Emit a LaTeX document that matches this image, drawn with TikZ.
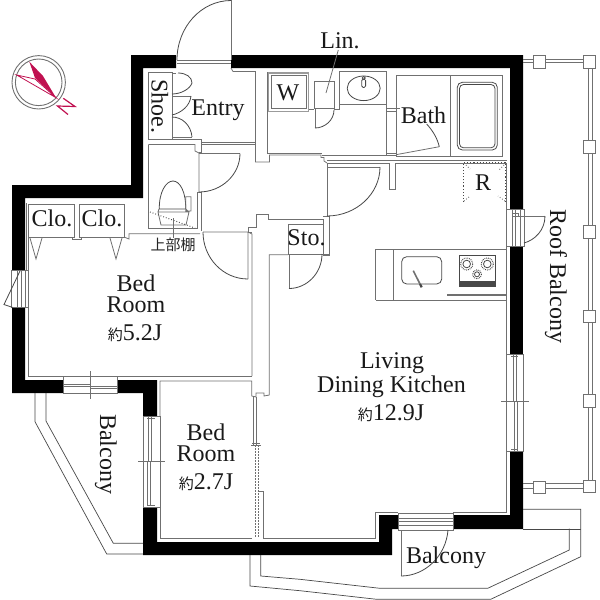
\documentclass[tikz,border=0pt]{standalone}
\usepackage{fontspec}
\setmainfont{Liberation Serif}
\newfontfamily\cjkf{Noto Sans CJK JP}
\newcommand{\yaku}{{\cjkf\fontsize{15}{15}\selectfont 約}}
\tikzset{
  wall/.style={fill=black,draw=none},
  ln/.style={draw=linegray,line width=0.8pt,line join=miter},
  dk/.style={draw=darkline,line width=0.8pt},
  lbl/.style={anchor=base,inner sep=0pt,outer sep=0pt,font=\fontsize{24}{24}\selectfont,text=black!90},
  post/.style={draw=linegray,line width=0.8pt,fill=white},
  compassline/.style={draw=compassred,line width=0.8pt},
}
\definecolor{linegray}{HTML}{707070}
\definecolor{darkline}{HTML}{484848}
\definecolor{compassred}{HTML}{C01050}
\begin{document}
\begin{tikzpicture}[x=1pt,y=-1pt]
\useasboundingbox (0,0) rectangle (600,600);
% walls
\path[wall] (12,270)--(12,185)--(131,185)--(131,55)--(176,55)--(176,68)--(143,68)--(143,198)--(25,198)--(25,270)--cycle;
\path[wall] (231,55)--(523,55)--(523,209)--(510,209)--(510,68)--(231,68)--cycle;
\path[wall] (510,246)--(523,246)--(523,354)--(510,354)--cycle;
\path[wall] (510,451)--(523,451)--(523,529)--(453,529)--(453,515)--(510,515)--cycle;
\path[wall] (379,515)--(398,515)--(398,529)--(392,529)--(392,555)--(143,555)--(143,507)--(157,507)--(157,542)--(379,542)--cycle;
\path[wall] (143,416)--(157,416)--(157,380)--(117,380)--(117,393)--(143,393)--cycle;
\path[wall] (12,308)--(25,308)--(25,380)--(63,380)--(63,393)--(12,393)--cycle;
% entry door
\draw[ln] (177,60)--(231,60) (177,63)--(231,63) (231,0)--(231,60);
\draw[dk] (231,0.5) .. controls (201.3,0.5) and (177,27) .. (177,60);
% entry and corridor walls
\draw[ln] (231,68)--(233,71.5)--(255.5,71.5)--(255.5,162)--(269.5,162)--(269.5,155)--(321,155)--(321,157.5)--(324,157.5)--(324,161)--(327,163);
\draw[ln] (267.3,72)--(267.3,153.5)--(321.5,153.5);
\draw[ln] (201,142)--(255.5,142) (201,144.5)--(255.5,144.5);
\draw[ln] (148.3,72)--(172,72)--(172,139)--(148.3,139)--cycle;
\draw[ln] (172,139)--(201,139)--(201,152.5)--(199,152.5);
% shoe cabinet doors
\draw[ln] (172,73)--(176,73) (172,96)--(191,96) (172,137)--(192,137);
\draw[dk] (178,73) .. controls (186,73) and (192,77) .. (192,83) .. controls (190,89) and (181,94) .. (172,94);
\draw[dk] (191,96) .. controls (190,106) and (181,113) .. (172,115);
\draw[dk] (172,117) .. controls (182,117) and (191,125) .. (192,137);
% toilet room
\draw[ln] (148.3,144.5)--(195,144.5)--(195,151)--(199,153)--(199,192);
\draw[ln] (148.3,144.5)--(148.3,228.5)--(197,228.5)--(197,192)--(201,192)--(201,231);
\draw[ln] (199,153.5)--(240,153.5);
\draw[dk] (240,153.5) .. controls (240,174.7) and (221.5,192) .. (199,192);
% toilet
\draw[ln,darkline] (159.3,209) .. controls (159,192) and (166,181) .. (173,181) .. controls (180,181) and (186,192) .. (185.7,209)--cycle;
\draw[ln] (158,212)--(189,212)--(186,225)--(161,225)--cycle (185.7,196.7) rectangle (191,211) (159,209)--(158,212) (185.7,209)--(189,212);
\draw[ln,darkline,dotted,line width=1pt] (150,212)--(195,228);
\draw[ln] (173.5,218)--(173.5,238);
% closets
\draw[ln] (28,204) rectangle (74,237) (79,204) rectangle (124,237);
\draw[ln] (72,237)--(72,239)--(81,239)--(81,237);
\draw[ln] (30,238)--(36,259)--(42,238) (110,238)--(116,259)--(122,238);
\draw[ln] (124,237)--(129,239)--(129,233.7)--(200,233.7);
\draw[ln] (26,203)--(26,270) (28,237)--(28,270);
% bed room 1
\draw[ln] (203,232)--(248,232)--(248,279) (248,232)--(252,234)--(252,376);
\draw[dk] (203,232) .. controls (203,258) and (223,279) .. (248,279);
\draw[ln] (28,308)--(28,376)--(252,376);
\draw[ln] (160,416)--(160,381)--(251.7,381)--(251.7,396)--(256,397)--(256,393)--(264,393)--(264,396)--(269.3,395)--(269.3,254.7)--(288,254.7);
\draw[ln] (160,507)--(160,538)--(252,538) (263,538)--(375,538)--(375,512)--(398,512) (453,512)--(506.5,512)--(506.5,451);
% middle steps
\draw[ln] (268,219)--(268,214.5)--(256,214.5)--(256,227)--(248,227)--(248,232)--(251.7,232);
\draw[ln] (268,219)--(324,219);
\draw[ln] (288,224)--(324,224) (288,224)--(288,254)--(329,254);
\draw[ln] (323,216)--(329,216)--(329,255)--(323,255)--(323,219);
\draw[ln] (289,254)--(289,288.5);
\draw[dk] (322,254) .. controls (322,273) and (307,288.5) .. (289,288.5);
\draw[ln] (327,163)--(327,216);
\draw[ln] (327,160.7)--(506.5,160.7) (327,163)--(389,163) (395,163)--(506.5,163);
\draw[ln] (389,163)--(389,189)--(395,189)--(395,163);
\draw[ln] (327,167)--(380,167);
\draw[dk] (380,167) .. controls (380,194) and (356,216) .. (327,216);
% sliding door
\draw[ln] (253,397)--(253,445) (256,397)--(256,445) (251,445)--(261,445) (252,443)--(260,443);
\draw[ln,dash pattern=on 2pt off 1pt] (255,445)--(255,537) (258,445)--(258,537);
\draw[ln] (257.5,491)--(263,491)--(263,538);
% W
\draw[draw=linegray!70,line width=1.6pt] (268.5,73) rectangle (308.5,111.5);
\draw[ln] (271,75.5) rectangle (306,108.5);
\draw[ln] (309,109)--(314.3,109);
% Lin
\draw[ln] (314.3,81) rectangle (334.3,108);
\draw[ln] (315,108)--(315,128) (334.3,109)--(339.3,109)--(339.3,104.3);
\draw[dk] (334,110) .. controls (334,120) and (325,128) .. (315,128);
\draw[ln] (338.3,50)--(326,93);
% wash
\draw[ln] (339.3,71.7) rectangle (386.7,104.3);
\draw[dk] (363.7,88.3) ellipse [x radius=16.5,y radius=12.3];
\draw[dk,rounded corners=1.5pt] (361.8,79) rectangle (365.6,87.5);
\draw[dk] (363.7,78) circle (1.6);
% bath
\draw[ln] (396.7,75) rectangle (502.3,156) (450.7,75)--(450.7,156);
\draw[ln] (321.5,155.7)--(396.7,155.7);
\draw[ln] (386.7,104.3)--(386.7,156);
\draw[ln] (386.7,108)--(400,108) (386.7,111)--(397,111) (386.7,153)--(397,153);
\draw[dk,rounded corners=5pt] (457.3,82.3) rectangle (497.3,150);
\draw[dk,rounded corners=4pt] (459.5,84.5) rectangle (495,147.8);
\draw[ln] (397,154.5)--(439.3,146.7);
\draw[dk] (439.3,146.7) .. controls (437,137) and (432,130) .. (426.7,124);
% fridge
\draw[darkline,dotted,line width=1.1pt] (463.3,202)--(463.3,162.5)--(506,162.5)--(506,202);
\draw[ln,dotted,line width=1pt] (466,165)--(470,169) (504,165)--(499,170) (464,201)--(469,197) (505,201)--(498,196);
% right side lines
\draw[ln] (506.5,163)--(506.5,209) (506.5,246)--(506.5,451);
% right door
\draw[ln] (506,209) rectangle (524,246) (512.7,209)--(512.7,246) (515,209)--(515,246) (520,209)--(520,246) (512.7,213)--(518,213)--(518,216) (513,216)--(545,216);
\draw[dk] (545,216) .. controls (545,230) and (535,240) .. (524,243);
% kitchen
\draw[ln] (375.7,300)--(375.7,249)--(506.7,249) (506.7,300)--(375.7,300) (393.3,249)--(393.3,300);
\draw[dk,rounded corners=5pt] (401.7,256.7) rectangle (441.7,284);
\draw[line width=1.6pt,draw=linegray] (413.3,270.7)--(420,284);
\draw[line width=2.2pt,draw=darkline] (420,284)--(421.7,287.3);
\draw[dk,line width=1pt] (459.3,255.7) rectangle (495,286);
\fill[darkline] (459.3,281) rectangle (495,286);
\draw[dk,densely dotted,line width=1pt] (466.7,264) circle (6) (487.3,264) circle (6) (477,274.3) circle (4.5);
\draw[dk] (466.7,264) circle (3.8) (487.3,264) circle (3.8) (477,274.3) circle (2.5);
\draw[linegray,line width=1.2pt] (447.3,295)--(506,295);
% right window
\draw[ln] (506.5,354) rectangle (523.5,451) (513,354)--(513,402) (516.7,354)--(516.7,402) (514,402)--(514,451) (517.5,402)--(517.5,451) (501,401.7)--(529,401.7);
\draw[ln] (511,356)--(518,356) (511,449)--(518,449);
% bed 2 window
\draw[ln] (143.3,416) rectangle (160.7,507) (148.5,416)--(148.5,462) (151.7,416)--(151.7,462) (147.5,462)--(147.5,505) (150,462)--(150,505) (138,461.7)--(165,461.7);
\draw[ln] (147,418)--(155,418) (147,505)--(155,505);
% bed 1 window
\draw[ln] (63.3,376) rectangle (117,393) (63.3,384)--(90.7,384) (63.3,386)--(90.7,386) (90.7,386)--(117,386) (90.7,388)--(117,388) (90.7,371)--(90.7,399);
% left window
\draw[ln] (11,270) rectangle (28,307.5) (17,270)--(17,307.5) (21,270)--(21,307.5) (25,270)--(25,307.5);
\draw[ln,darkline] (20,271)--(4,304.5)--(13,307.5);
% balcony door
\draw[ln] (398,513) rectangle (453,530) (398,518)--(453,518) (398,521)--(453,521) (398,525)--(453,525);
\draw[ln] (401,530)--(401,576);
\draw[dk] (448,530) .. controls (446,556) and (425,576) .. (401,576);
% balconies
\draw[dk,line width=0.7pt] (35,393)--(35,421.7)--(106.7,554)--(143,554);
\draw[dk,line width=0.7pt] (46,393)--(46,421)--(113.3,543.3)--(143,543.3);
\draw[dk,line width=0.7pt] (260.7,555)--(260.7,576)--(300,579.3)--(380,588.3)--(487.7,588.3)--(569.3,550)--(569.3,528.7);
\draw[dk,line width=0.7pt] (250,555)--(250,586)--(300,590.7)--(376.7,599.3)--(490.7,599.3)--(580.7,556.7)--(580.7,509.3)--(523,509.3);
\draw[dk,line width=0.7pt] (523,529)--(580.7,529);
% roof balcony fence
\draw[ln] (523,59.3)--(590,59.3) (523,62.7)--(590,62.7);
\draw[ln] (523,483.3)--(590,483.3) (523,488.3)--(590,488.3);
\draw[ln] (588.7,62)--(588.7,486) (592,62)--(592,486);
\draw[post] (533,55.5) rectangle (545.7,68);
\draw[post] (583.7,55) rectangle (595.7,68);
\draw[post] (583.7,140.7) rectangle (595.7,153.3);
\draw[post] (583.7,225.7) rectangle (595.7,238.3);
\draw[post] (583.7,310) rectangle (595.7,322.7);
\draw[post] (583.7,394.3) rectangle (595.7,407.3);
\draw[post] (583.7,480) rectangle (595.7,492.3);
\draw[post] (533,481) rectangle (545.7,493);
% compass
\draw[linegray,line width=0.9pt] (38.7,82.3) circle (26.7) (38.7,82.3) circle (23.3);
\fill[compassred] (29.3,61.7)--(35,78)--(56,97.7)--(43,76)--cycle;
\draw[compassline] (16.7,75)--(35,79)--(56,97.7)--cycle;
\draw[compassline,line width=1.2pt] (63.3,98.3)--(75,106.5)--(57.5,106)--(68,114.5);
% labels
\node[lbl,rotate=-90] (shoe) at (151.7,106) {Shoe.};
\node[lbl] (entry) at (218,115) {Entry};
\node[lbl] (lin) at (340,48) {Lin.};
\node[lbl] (w) at (288,100.7) {W};
\node[lbl] (bath) at (423.5,123) {Bath};
\node[lbl] (r) at (483,190) {R};
\node[lbl] (clo1) at (52,226.7) {Clo.};
\node[lbl] (clo2) at (102,226.7) {Clo.};
\node[lbl] (sto) at (306.5,245) {Sto.};
\node[anchor=base,inner sep=0pt,text=black!85] (shelf) at (173,250) {\cjkf\fontsize{15}{15}\selectfont 上部棚};
\node[lbl] (bedA) at (136,291.7) {Bed};
\node[lbl] (roomA) at (136,312.7) {Room};
\node[lbl] (areaA) at (135,340) {\yaku 5.2J};
\node[lbl] (bedB) at (206,440.7) {Bed};
\node[lbl] (roomB) at (206,461) {Room};
\node[lbl] (areaB) at (206,489) {\yaku 2.7J};
\node[lbl] (living) at (392,368) {Living};
\node[lbl] (dining) at (391.5,392.7) {Dining Kitchen};
\node[lbl] (areaC) at (391,420) {\yaku 12.9J};
\node[lbl,rotate=-90] (balcA) at (100,454) {Balcony};
\node[lbl] (balcB) at (446,563) {Balcony};
\node[lbl,rotate=-90] (roof) at (550,276) {Roof Balcony};
\end{tikzpicture}
\end{document}
